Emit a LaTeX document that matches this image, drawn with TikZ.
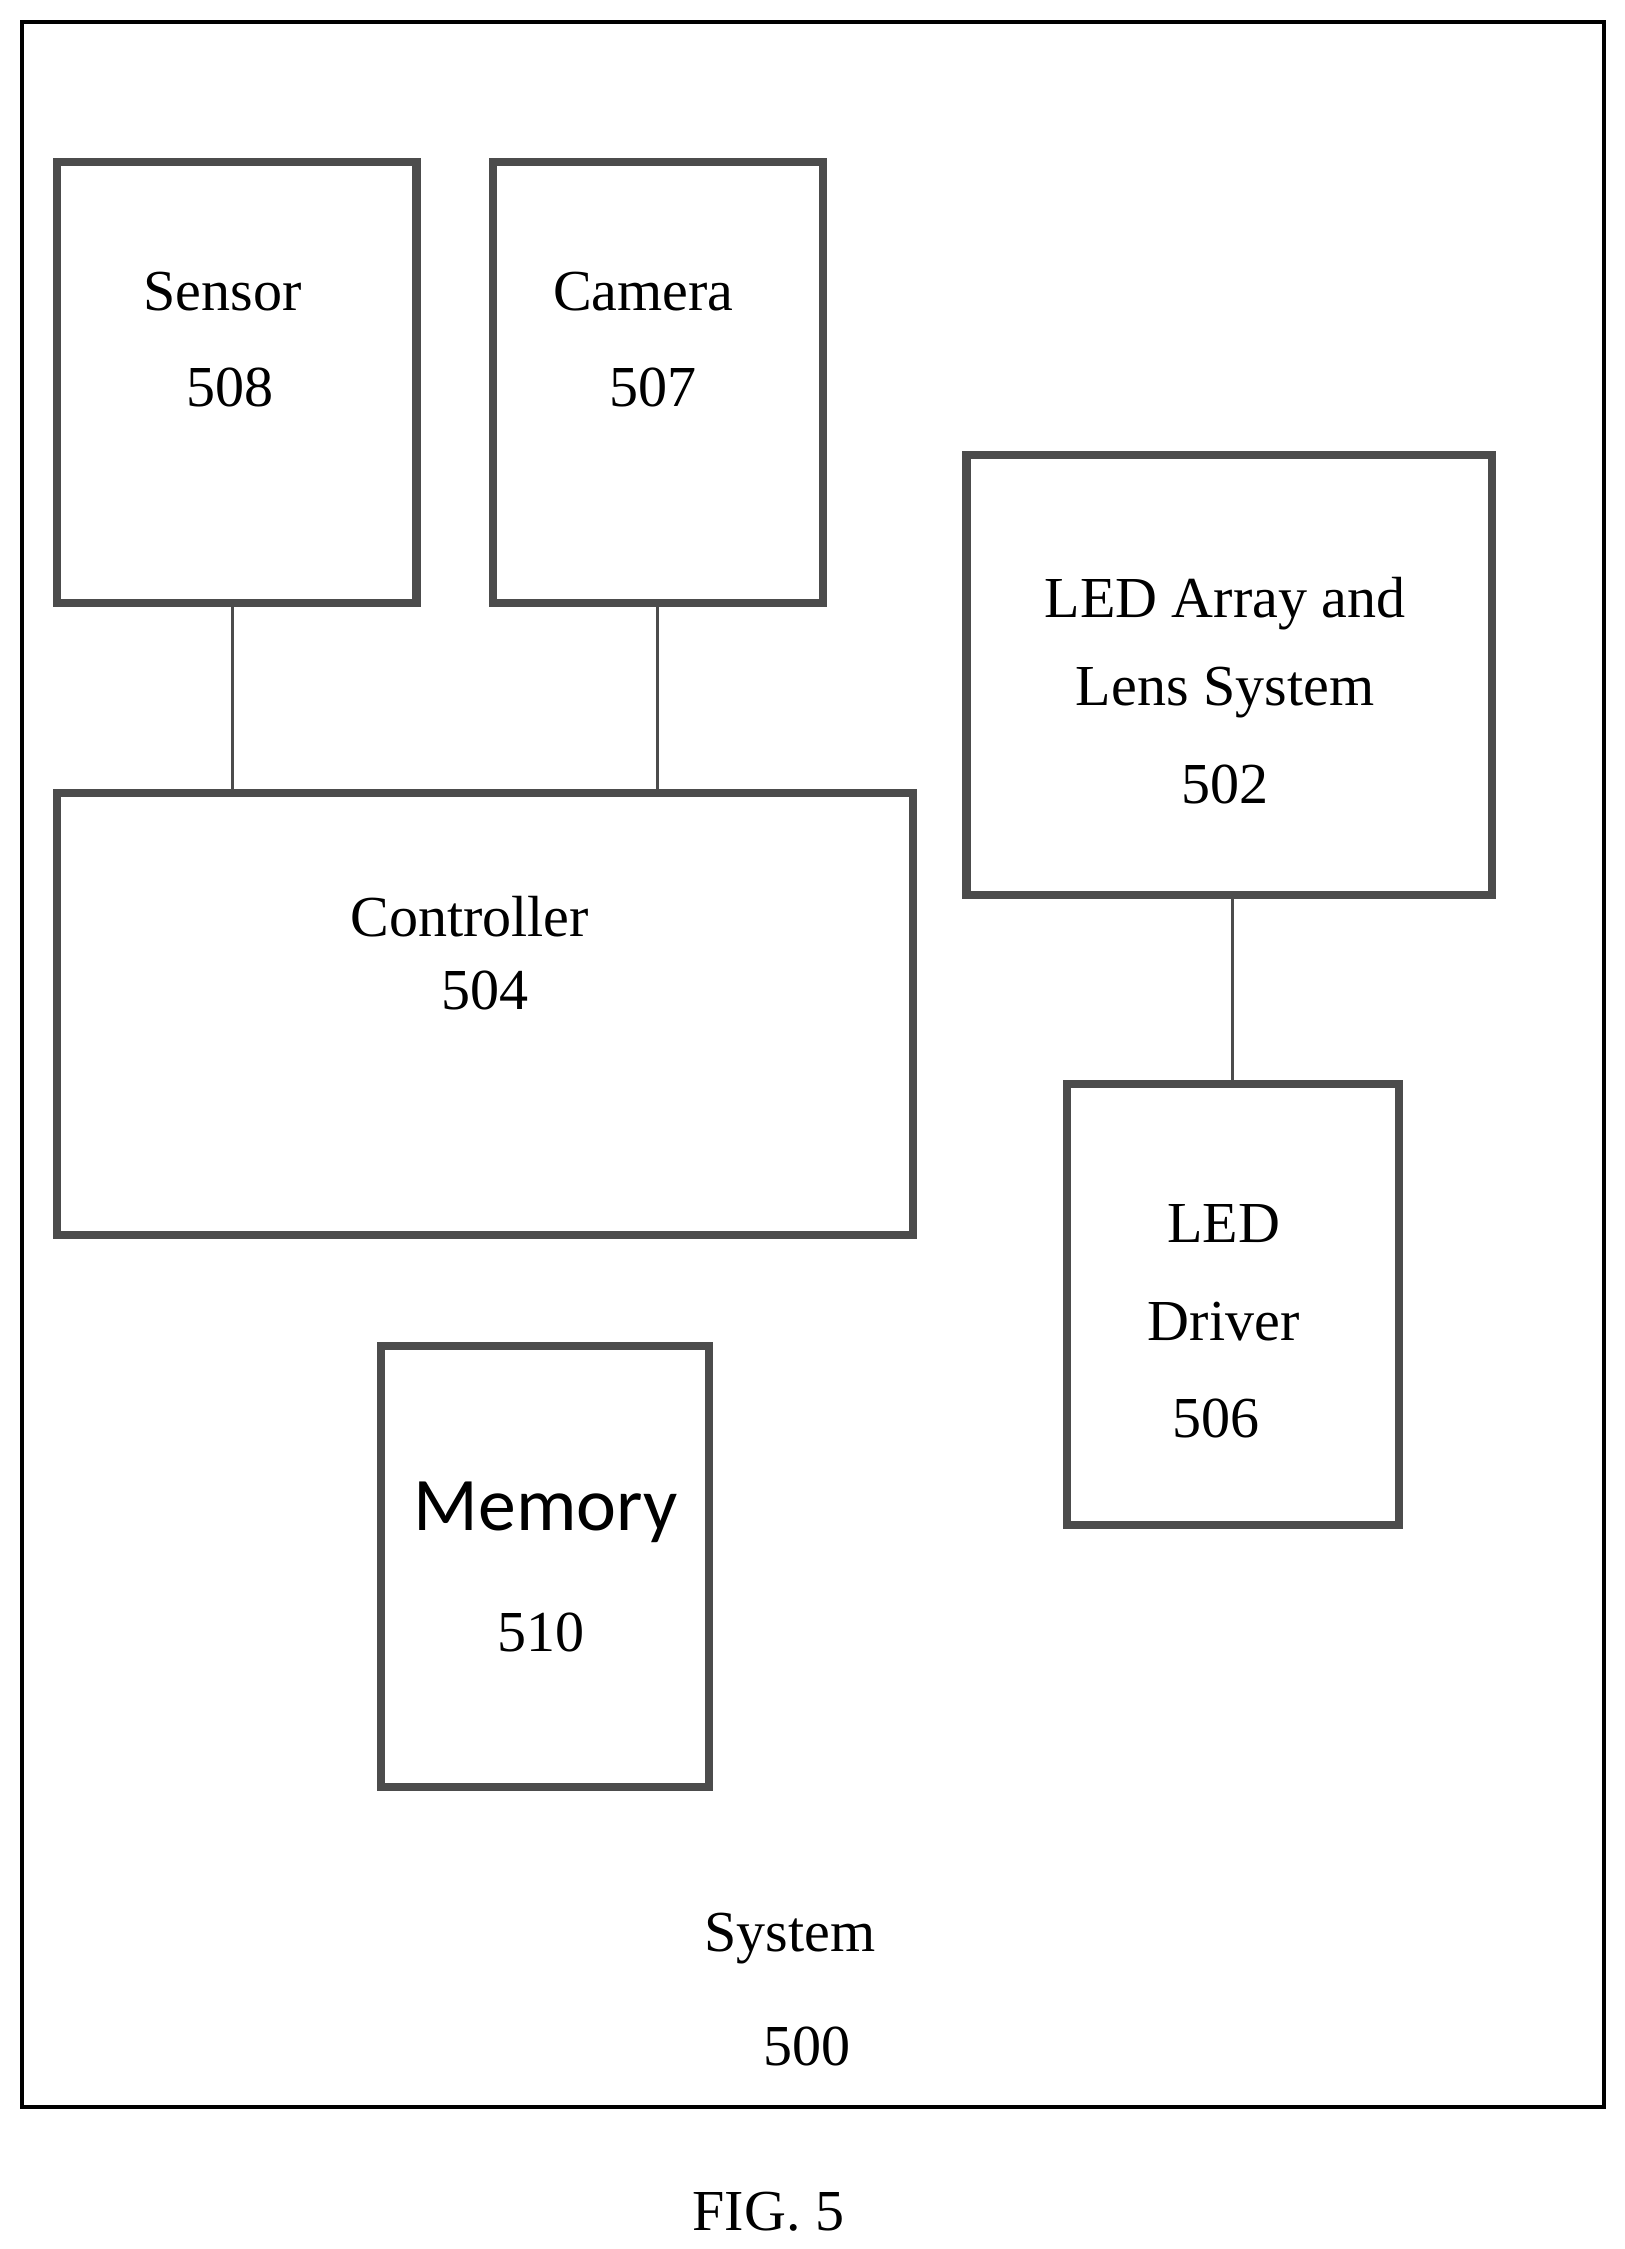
\documentclass[tikz,border=0pt]{standalone}
\usepackage{fontspec}
\setmainfont{Liberation Serif}
\newfontfamily\memfont{Carlito}
\begin{document}
\begin{tikzpicture}[x=0.02cm,y=-0.02cm,
  box/.style={draw=black!70,line width=3.2pt},
  lbl/.style={font=\fontsize{23}{27}\selectfont,inner sep=0pt},
  ln/.style={draw=black!70,line width=1.2pt}]
\useasboundingbox (0,0) rectangle (1131,1566);
\draw[line width=1.6pt] (15,15) rectangle (1117,1467);
\draw[box] (40,113) rectangle (290,420);
\draw[box] (343,113) rectangle (573,420);
\draw[box] (673,317) rectangle (1039,623);
\draw[box] (40,552) rectangle (636,860);
\draw[box] (743,755) rectangle (974,1062);
\draw[box] (265,937) rectangle (494,1244);
\coordinate (s1) at (162,420); \coordinate (s2) at (162,552);
\coordinate (c1) at (458,420); \coordinate (c2) at (458,552);
\coordinate (l1) at (858,623); \coordinate (l2) at (858,755);
\draw[ln] (s1)--(s2); \draw[ln] (c1)--(c2); \draw[ln] (l1)--(l2);
\node[lbl] (t1) at (155,203) {Sensor};
\node[lbl] (t2) at (160,270) {508};
\node[lbl] (t3) at (448,203) {Camera};
\node[lbl] (t4) at (455,270) {507};
\node[lbl] (t5) at (853,420) {LED Array and};
\node[lbl] (t6) at (853,482) {Lens System};
\node[lbl] (t7) at (853,546) {502};
\node[lbl] (t8) at (327,638) {Controller};
\node[lbl] (t9) at (338,690) {504};
\node[lbl] (t10) at (852,852) {LED};
\node[lbl] (t11) at (852,920) {Driver};
\node[lbl] (t12) at (847,988) {506};
\node[lbl,font=\memfont\fontsize{30}{34}\selectfont] (t13) at (380,1053) {Memory};
\node[lbl] (t14) at (377,1137) {510};
\node[lbl] (t15) at (550,1350) {System};
\node[lbl] (t16) at (562,1425) {500};
\node[lbl] (t17) at (535,1540) {FIG. 5};
\end{tikzpicture}
\end{document}
